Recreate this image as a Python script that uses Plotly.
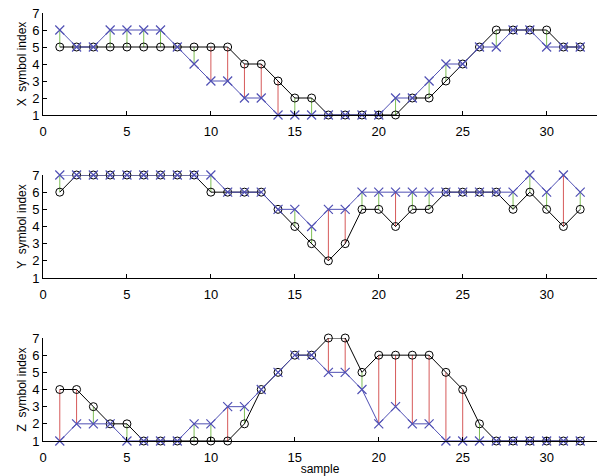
import plotly.graph_objects as go

samples = list(range(1, 33))

x_true = [5, 5, 5, 5, 5, 5, 5, 5, 5, 5, 5, 4, 4, 3, 2, 2, 1, 1, 1, 1, 1, 2, 2, 3, 4, 5, 6, 6, 6, 6, 5, 5]
x_est = [6, 5, 5, 6, 6, 6, 6, 5, 4, 3, 3, 2, 2, 1, 1, 1, 1, 1, 1, 1, 2, 2, 3, 4, 4, 5, 5, 6, 6, 5, 5, 5]

y_true = [6, 7, 7, 7, 7, 7, 7, 7, 7, 6, 6, 6, 6, 5, 4, 3, 2, 3, 5, 5, 4, 5, 5, 6, 6, 6, 6, 5, 6, 5, 4, 5]
y_est = [7, 7, 7, 7, 7, 7, 7, 7, 7, 7, 6, 6, 6, 5, 5, 4, 5, 5, 6, 6, 6, 6, 6, 6, 6, 6, 6, 6, 7, 6, 7, 6]

z_true = [4, 4, 3, 2, 2, 1, 1, 1, 1, 1, 1, 2, 4, 5, 6, 6, 7, 7, 5, 6, 6, 6, 6, 5, 4, 2, 1, 1, 1, 1, 1, 1]
z_est = [1, 2, 2, 2, 1, 1, 1, 1, 2, 2, 3, 3, 4, 5, 6, 6, 5, 5, 4, 2, 3, 2, 2, 1, 1, 1, 1, 1, 1, 1, 1, 1]

y_titles = ["X  symbol index", "Y  symbol index", "Z  symbol index"]
x_ticks = [0, 5, 10, 15, 20, 25, 30]
y_ticks = [1, 2, 3, 4, 5, 6, 7]

BLUE = "#5050b4"
GREEN = "#7dbf55"
RED = "#d65a5a"
FONT = "Liberation Sans, Arial, sans-serif"

H = 476
# pixel rows of y=7 and y=1 for each panel
panel_px = [(13, 115), (175, 278), (338, 441)]

fig = go.Figure()

series = [(x_true, x_est), (y_true, y_est), (z_true, z_est)]
for i, (tr, es) in enumerate(series):
    ax = "" if i == 0 else str(i + 1)
    xr, yr = "x" + ax, "y" + ax
    gx, gy, rx, ry = [], [], [], []
    for s, a, b in zip(samples, tr, es):
        if a == b:
            continue
        if abs(a - b) == 1:
            gx += [s, s, None]; gy += [a, b, None]
        else:
            rx += [s, s, None]; ry += [a, b, None]
    fig.add_trace(go.Scatter(x=gx, y=gy, mode="lines", line=dict(color=GREEN, width=1),
                             xaxis=xr, yaxis=yr, showlegend=False, hoverinfo="skip"))
    fig.add_trace(go.Scatter(x=rx, y=ry, mode="lines", line=dict(color=RED, width=1),
                             xaxis=xr, yaxis=yr, showlegend=False, hoverinfo="skip"))
    fig.add_trace(go.Scatter(x=samples, y=tr, mode="lines+markers",
                             line=dict(color="black", width=1),
                             marker=dict(symbol="circle-open", size=8, color="black",
                                         line=dict(width=1, color="black")),
                             cliponaxis=False, xaxis=xr, yaxis=yr, showlegend=False))
    fig.add_trace(go.Scatter(x=samples, y=es, mode="lines+markers",
                             line=dict(color=BLUE, width=1),
                             marker=dict(symbol="x-thin-open", size=9, color=BLUE,
                                         line=dict(width=1.2, color=BLUE)),
                             cliponaxis=False, xaxis=xr, yaxis=yr, showlegend=False))

    top, bot = panel_px[i]
    axis_common = dict(showline=True, linecolor="black", linewidth=1, ticks="inside",
                       ticklen=4, tickcolor="black", showgrid=False, zeroline=False,
                       automargin=False,
                       tickfont=dict(family=FONT, size=13, color="black"))
    fig.layout["xaxis" + ax] = dict(axis_common, range=[0, 33], tickvals=x_ticks,
                                    anchor=yr, domain=[0, 1], ticklabelstandoff=4)
    fig.layout["yaxis" + ax] = dict(axis_common, range=[1, 7], tickvals=y_ticks,
                                    anchor=xr, domain=[1 - bot / H, 1 - top / H],
                                    title=dict(text=y_titles[i], standoff=2,
                                               font=dict(family=FONT, size=12, color="black")))

fig.layout["xaxis3"]["title"] = dict(text="sample", standoff=0,
                                     font=dict(family=FONT, size=12, color="black"))

fig.update_layout(width=597, height=476, margin=dict(l=43, r=0, t=0, b=0),
                  plot_bgcolor="white", paper_bgcolor="white",
                  font=dict(family=FONT, color="black"))

fig.write_html("out.html", config={"displayModeBar": False},
               post_script="document.body.style.margin='0';document.body.style.overflow='hidden';")
